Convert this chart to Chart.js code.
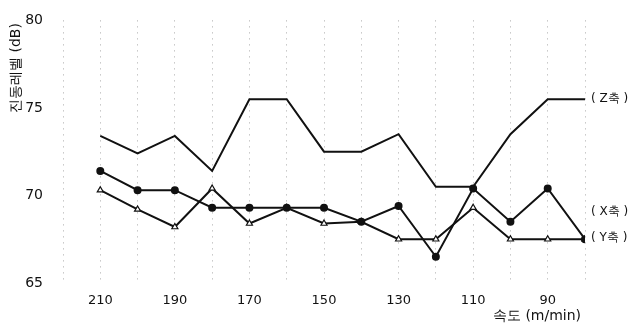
<!DOCTYPE html>
<html>
<head>
<meta charset="utf-8">
<script src="https://cdn.jsdelivr.net/npm/chart.js@4/dist/chart.umd.min.js"></script>
<style>
  html, body { margin: 0; padding: 0; background: #fff; }
  #wrap { width: 633px; height: 328px; }
</style>
</head>
<body>
<div id="wrap"><canvas id="chart"></canvas></div>
<script>
// 속도 (m/min)
var speeds = [210, 200, 190, 180, 170, 160, 150, 140, 130, 120, 110, 100, 90, 80];
// 진동레벨 (dB)
var zAxis = [73.4, 72.4, 73.4, 71.4, 75.5, 75.5, 72.5, 72.5, 73.5, 70.5, 70.5, 73.5, 75.5, 75.5];
var xAxis = [71.4, 70.3, 70.3, 69.3, 69.3, 69.3, 69.3, 68.5, 69.4, 66.5, 70.4, 68.5, 70.4, 67.5];
var yAxis = [70.3, 69.2, 68.2, 70.4, 68.4, 69.3, 68.4, 68.5, 67.5, 67.5, 69.3, 67.5, 67.5, 67.5];
var yTicks = [65, 70, 75, 80];
var seriesNames = ["( Z축 )", "( X축 )", "( Y축 )"];

function pts(vals) {
  return speeds.map(function (s, i) { return { x: s, y: vals[i] }; });
}

var font = "'DejaVu Sans', sans-serif";

// 오른쪽 축 이름 + 축 제목
var labelPlugin = {
  id: 'labels',
  afterDraw: function (chart) {
    var c = chart.ctx;
    var xs = chart.scales.x, ys = chart.scales.y;
    c.save();
    c.fillStyle = '#111';
    c.font = '12px ' + font;
    c.textBaseline = 'middle';
    c.textAlign = 'left';
    var last = speeds.length - 1;
    var px = xs.getPixelForValue(speeds[last]) + 6;
    c.fillText(seriesNames[0], px, ys.getPixelForValue(zAxis[last]));
    c.fillText(seriesNames[1], px, ys.getPixelForValue(xAxis[last]) - 27);
    c.fillText(seriesNames[2], px, ys.getPixelForValue(yAxis[last]) - 1);

    c.font = '14px ' + font;
    c.textAlign = 'center';
    c.fillText('속도 (m/min)', xs.right - 48, 316);

    c.translate(16, 68);
    c.rotate(-Math.PI / 2);
    c.fillText('진동레벨 (dB)', 0, 0);
    c.restore();
  }
};

var ctx = document.getElementById('chart');
var chart = new Chart(ctx, {
  type: 'line',
  data: {
    datasets: [
      {
        label: seriesNames[0],
        data: pts(zAxis),
        borderColor: '#111',
        borderWidth: 2,
        pointRadius: 0,
        tension: 0
      },
      {
        label: seriesNames[1],
        data: pts(xAxis),
        borderColor: '#111',
        backgroundColor: '#111',
        borderWidth: 2,
        pointStyle: 'circle',
        pointRadius: 3,
        tension: 0
      },
      {
        label: seriesNames[2],
        data: pts(yAxis),
        borderColor: '#111',
        backgroundColor: '#fff',
        borderWidth: 2,
        pointStyle: 'triangle',
        pointRadius: 3.5,
        pointBorderWidth: 1.2,
        tension: 0
      }
    ]
  },
  options: {
    responsive: true,
    maintainAspectRatio: false,
    animation: false,
    layout: { padding: { top: 12, right: 48, left: 0, bottom: 0 } },
    plugins: {
      legend: { display: false },
      tooltip: { enabled: false }
    },
    scales: {
      x: {
        type: 'linear',
        reverse: true,
        min: 80,
        max: 220,
        // 격자선은 점선
        border: { display: false, dash: [1, 5] },
        grid: {
          color: '#aaa',
          lineWidth: 1,
          tickLength: 0,
          drawTicks: false
        },
        ticks: {
          stepSize: 10,
          autoSkip: false,
          maxRotation: 0,
          padding: 10,
          color: '#111',
          font: { family: font, size: 13 },
          callback: function (v) { return v % 20 === 10 ? v : ''; }
        },
        afterFit: function (s) { s.height = 45; }
      },
      y: {
        min: 65,
        max: 80,
        border: { display: false },
        grid: { display: false },
        afterBuildTicks: function (s) {
          s.ticks = yTicks.map(function (v) { return { value: v }; });
        },
        ticks: {
          padding: 12,
          color: '#111',
          font: { family: font, size: 14 }
        },
        afterFit: function (s) { s.width = 63; }
      }
    }
  },
  plugins: [labelPlugin]
});
</script>
</body>
</html>
